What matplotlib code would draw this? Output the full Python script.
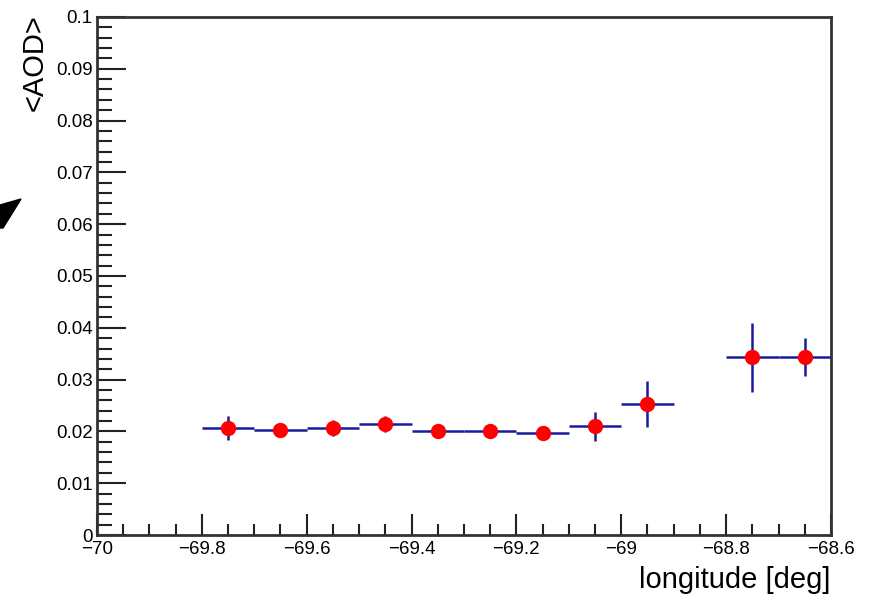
import numpy as np
import matplotlib.pyplot as plt
from matplotlib.ticker import MultipleLocator
from matplotlib.patches import Polygon

plt.rcParams["font.family"] = ["Liberation Sans", "DejaVu Sans"]

# bin centres (deg), mean AOD and its error
lon = [-69.75, -69.65, -69.55, -69.45, -69.35, -69.25, -69.15, -69.05, -68.95, -68.75, -68.65]
aod = [0.0206, 0.0203, 0.0207, 0.0214, 0.0200, 0.0200, 0.0196, 0.0210, 0.0253, 0.0343, 0.0343]
aod_err = [0.0023, 0.0010, 0.0015, 0.0015, 0.0008, 0.0008, 0.0008, 0.0028, 0.0045, 0.0067, 0.0037]
half_bin = 0.05

fig = plt.figure(figsize=(8.76, 6.01), dpi=100)
ax = fig.add_axes([0.1107, 0.1098, 0.8379, 0.862])

ax.errorbar(lon, aod, xerr=half_bin, yerr=aod_err, fmt="none",
            ecolor="#1a1aa0", elinewidth=1.8, capsize=0, zorder=2)
ax.plot(lon, aod, "o", color="red", markersize=10, zorder=3)

ax.set_xlim(-70, -68.6)
ax.set_ylim(0, 0.1)
ax.xaxis.set_major_locator(MultipleLocator(0.2))
ax.xaxis.set_minor_locator(MultipleLocator(0.05))
ax.yaxis.set_major_locator(MultipleLocator(0.01))
ax.yaxis.set_minor_locator(MultipleLocator(0.002))
ax.xaxis.set_major_formatter(plt.FuncFormatter(lambda v, p: f"{v:g}".replace("-", "\u2212")))
ax.yaxis.set_major_formatter(plt.FuncFormatter(
    lambda v, p: "0" if abs(v) < 1e-9 else ("0.1" if abs(v - 0.1) < 1e-9 else f"{v:.2f}")))

ax.tick_params(axis="both", which="both", direction="in", labelsize=13.5,
               top=False, right=False, color="#222222", width=1.5)
ax.tick_params(axis="x", which="major", length=15, pad=4)
ax.tick_params(axis="x", which="minor", length=8)
ax.tick_params(axis="y", which="major", length=21, pad=3)
ax.tick_params(axis="y", which="minor", length=11)

for sp in ax.spines.values():
    sp.set_linewidth(2)
    sp.set_color("#333333")

ax.set_xlabel("longitude [deg]", fontsize=21, loc="right", labelpad=6)
ax.set_ylabel("<AOD>", fontsize=21, loc="top", labelpad=6)
ax.yaxis.set_label_coords(-0.066, 1.006)

# cropped arrow head at the left edge
fig.patches.append(Polygon([(0, 1 - 205 / 601), (21 / 876, 1 - 199 / 601),
                            (3 / 876, 1 - 228 / 601), (0, 1 - 228 / 601)],
                           closed=True, transform=fig.transFigure, color="black"))

fig.savefig("out.png", dpi=100)
